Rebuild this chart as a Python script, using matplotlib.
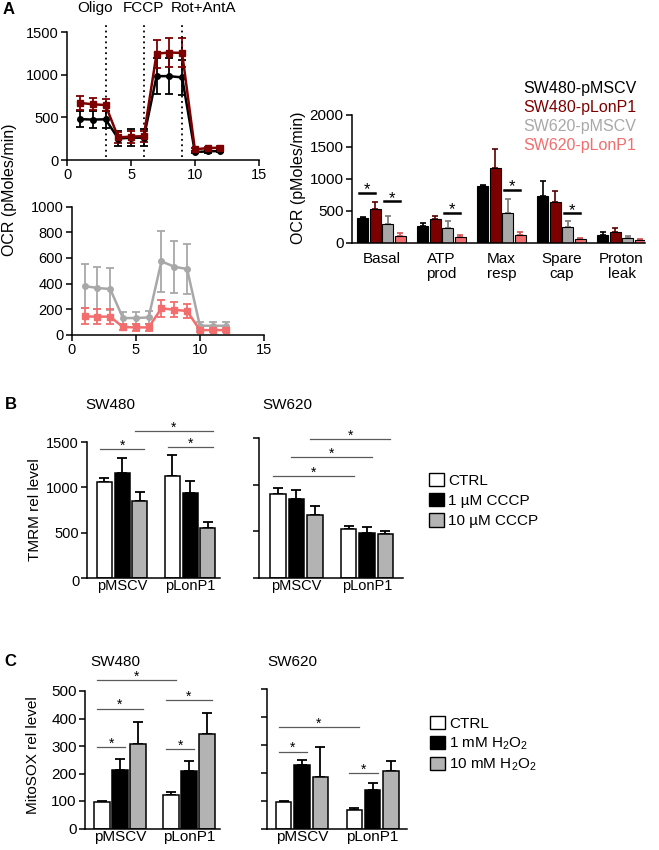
import matplotlib
matplotlib.use("Agg")
import matplotlib.pyplot as plt
import numpy as np
from matplotlib.patches import Patch

plt.rcParams["font.family"] = ["Liberation Sans", "DejaVu Sans"]
plt.rcParams["mathtext.fontset"] = "custom"
plt.rcParams["mathtext.rm"] = "Liberation Sans"

W, H = 659, 850

# ---- panel A: Seahorse traces ----
time = [1, 2, 3, 4, 5, 6, 7, 8, 9, 10, 11, 12]
injections = [3, 6, 9]
injection_labels = ["Oligo", "FCCP", "Rot+AntA"]

sw480_mscv = [480, 475, 478, 252, 262, 262, 985, 985, 970, 92, 102, 105]
sw480_mscv_err = [90, 100, 100, 92, 100, 100, 210, 212, 207, 15, 15, 15]
sw480_lon = [670, 655, 645, 265, 275, 280, 1250, 1262, 1258, 125, 140, 145]
sw480_lon_err = [80, 73, 70, 68, 70, 65, 165, 175, 170, 15, 15, 15]

sw620_mscv = [380, 365, 357, 130, 130, 135, 573, 531, 513, 70, 70, 70]
sw620_mscv_err = [172, 165, 166, 50, 50, 50, 239, 203, 198, 31, 31, 31]
sw620_lon = [143, 141, 141, 60, 57, 57, 206, 195, 185, 36, 36, 36]
sw620_lon_err = [63, 57, 57, 26, 26, 26, 65, 60, 55, 14, 14, 14]

# ---- panel A: OCR parameters ----
ocr_params = ["Basal", "ATP\nprod", "Max\nresp", "Spare\ncap", "Proton\nleak"]
ocr_lines = ["SW480-pMSCV", "SW480-pLonP1", "SW620-pMSCV", "SW620-pLonP1"]
ocr_vals = [
    [391, 260, 885, 729, 125],
    [526, 370, 1161, 641, 161],
    [286, 229, 458, 240, 78],
    [109, 89, 115, 57, 42],
]
ocr_errs = [
    [10, 52, 11, 240, 42],
    [114, 52, 297, 172, 63],
    [136, 110, 230, 93, 21],
    [37, 26, 57, 21, 10],
]
# (parameter, series a, series b, height)
ocr_sig = [(0, 0, 1, 781), (0, 2, 3, 647), (1, 2, 3, 469), (2, 2, 3, 823), (3, 2, 3, 458)]

# ---- panels B / C ----
vectors = ["pMSCV", "pLonP1"]
tmrm_labels = ["CTRL", "1 µM CCCP", "10 µM CCCP"]
tmrm_sw480 = [[1055, 1161, 849], [1125, 941, 548]]
tmrm_sw480_err = [[51, 166, 99], [235, 132, 66]]
tmrm_sw620 = [[900, 847, 672], [529, 486, 472]]
tmrm_sw620_err = [[61, 96, 100], [32, 64, 28]]
tmrm_sw480_sig = [(0, 2, 1420), (2, 5, 1620), (3, 5, 1445)]
tmrm_sw620_sig = [(0, 3, 1093), (1, 4, 1297), (2, 5, 1490)]

sox_labels = ["CTRL", r"1 mM H$_\mathregular{2}$O$_\mathregular{2}$",
              r"10 mM H$_\mathregular{2}$O$_\mathregular{2}$"]
sox_sw480 = [[98, 211, 307], [122, 208, 345]]
sox_sw480_err = [[1, 40, 81], [9, 37, 76]]
sox_sw620 = [[97, 230, 187], [67, 139, 206]]
sox_sw620_err = [[2, 18, 106], [8, 24, 38]]
sox_sw480_sig = [(0, 3, 539), (0, 2, 436), (0, 1, 295), (3, 5, 467), (3, 4, 288)]
sox_sw620_sig = [(0, 3, 364), (0, 1, 276), (3, 4, 199)]

c_black = "#000000"
c_red = "#7d0000"
c_gray = "#a8a8a8"
c_pink = "#f26d6d"
treat_colors = ["white", "black", "#b3b3b3"]

fig = plt.figure(figsize=(W / 100, H / 100), dpi=100)


def px_axes(left, top, right, bottom):
    return fig.add_axes([left / W, 1 - bottom / H, (right - left) / W, (bottom - top) / H])


def px_text(x, y, s, **kw):
    fig.text(x / W, 1 - y / H, s, **kw)


def style(ax, fs=10.5):
    for side in ["top", "right"]:
        ax.spines[side].set_visible(False)
    for side in ["left", "bottom"]:
        ax.spines[side].set_linewidth(1.1)
    ax.tick_params(direction="out", length=4, width=1.1, labelsize=fs, pad=2)


def star(ax, x, y, fs, off=2):
    ax.annotate("*", (x, y), xytext=(0, off), textcoords="offset points",
                fontsize=fs, ha="center", va="center", annotation_clip=False)


# A top trace
ax1 = px_axes(67.2, 32.3, 258.7, 160)
style(ax1)
ax1.errorbar(time, sw480_mscv, yerr=sw480_mscv_err, fmt="-o", color=c_black, ms=4,
             lw=1.8, elinewidth=1.3, capsize=3, capthick=1.3)
ax1.errorbar(time, sw480_lon, yerr=sw480_lon_err, fmt="-s", color=c_red, ms=4,
             lw=1.8, elinewidth=1.3, capsize=3, capthick=1.3)
ax1.vlines(injections, 35, 1625, colors="black", linestyles=(0, (1, 2)), lw=1.3, clip_on=False)
ax1.set_xlim(0, 15)
ax1.set_ylim(0, 1500)
ax1.set_xticks([0, 5, 10, 15])
ax1.set_yticks([0, 500, 1000, 1500])
for x, lab in zip([95, 143, 204], injection_labels):
    px_text(x, 8, lab, fontsize=11, ha="center", va="center")

# A lower trace
ax2 = px_axes(71.7, 206.7, 264, 334.7)
style(ax2)
ax2.errorbar(time, sw620_mscv, yerr=sw620_mscv_err, fmt="-o", color=c_gray, ms=4,
             lw=1.8, elinewidth=1.3, capsize=3, capthick=1.3)
ax2.errorbar(time, sw620_lon, yerr=sw620_lon_err, fmt="-s", color=c_pink, ms=4,
             lw=1.8, elinewidth=1.3, capsize=3, capthick=1.3)
ax2.set_xlim(0, 15)
ax2.set_ylim(0, 1000)
ax2.set_xticks([0, 5, 10, 15])
ax2.set_yticks([0, 200, 400, 600, 800, 1000])

px_text(9, 10, "A", fontsize=12, fontweight="bold", ha="center", va="center")
px_text(10, 190, "OCR (pMoles/min)", fontsize=11.5, rotation=90, ha="center", va="center")

# A bars
ax3 = px_axes(352, 114.5, 645, 242.7)
style(ax3, fs=11)
bar_cols = [c_black, c_red, c_gray, c_pink]
err_cols = ["#000000", "#5a0000", "#777777", "#d05050"]
grp = np.arange(len(ocr_params))
step, bw = 0.208, 0.185
for i in range(4):
    xs = grp + (i - 1.5) * step
    ax3.bar(xs, ocr_vals[i], bw, color=bar_cols[i], edgecolor="black", lw=0.8, zorder=2)
    ax3.errorbar(xs, ocr_vals[i], yerr=[np.zeros(5), ocr_errs[i]], fmt="none",
                 ecolor=err_cols[i], elinewidth=1.2, capsize=2.5, capthick=1.2, zorder=1)
for g, a, b, y in ocr_sig:
    xa = g + (a - 1.5) * step - 0.06
    xb = g + (b - 1.5) * step + 0.0
    ax3.plot([xa, xb], [y, y], color="black", lw=1.8, clip_on=False)
    star(ax3, (xa + xb) / 2, y, 12, off=2.2)
ax3.set_xlim(-0.49, 4.39)
ax3.set_ylim(0, 2000)
ax3.set_yticks([0, 500, 1000, 1500, 2000])
ax3.set_xticks(grp)
ax3.set_xticklabels(ocr_params, linespacing=1.05)
ax3.tick_params(axis="x", length=0, pad=7)
px_text(298, 178, "OCR (pMoles/min)", fontsize=11.5, rotation=90, ha="center", va="center")
for k, (lab, col) in enumerate(zip(ocr_lines, bar_cols)):
    px_text(523, 88 + k * 19.3, lab, fontsize=11.5, color=col, ha="left", va="center")


def grouped(ax, vals, errs, sig, ylim, step=0.26, bw=0.22, fs=10.5):
    style(ax, fs=fs)
    vals = np.array(vals)
    errs = np.array(errs)
    centers = []
    for g in range(2):
        for i in range(3):
            centers.append(g + (i - 1) * step)
    centers = np.array(centers)
    for i in range(3):
        xs = np.arange(2) + (i - 1) * step
        ax.bar(xs, vals[:, i], bw, color=treat_colors[i], edgecolor="black", lw=1.1, zorder=2)
        ax.errorbar(xs, vals[:, i], yerr=[np.zeros(2), errs[:, i]], fmt="none", ecolor="black",
                    elinewidth=1.3, capsize=3.6, capthick=1.3, zorder=1)
    for a, b, y in sig:
        xa, xb = centers[a] - 0.07, centers[b] + 0.07
        ax.plot([xa, xb], [y, y], color="#5a5a5a", lw=0.9, clip_on=False)
        star(ax, (xa + xb) / 2, y, 10, off=2.5)
    ax.set_ylim(*ylim)
    ax.set_xticks([0, 1])
    ax.set_xticklabels(vectors)
    ax.tick_params(axis="x", length=0, pad=1)


# B
axb1 = px_axes(87, 442, 220, 578)
grouped(axb1, tmrm_sw480, tmrm_sw480_err, tmrm_sw480_sig, (0, 1500))
axb1.set_xlim(-0.515, 1.44)
axb1.set_yticks([0, 500, 1000, 1500])
axb1.set_yticklabels(["", "500", "1000", "1500"])
px_text(76, 582, "0", fontsize=10.5, ha="center", va="center")

axb2 = px_axes(259, 438, 403, 578)
grouped(axb2, tmrm_sw620, tmrm_sw620_err, tmrm_sw620_sig, (0, 1500))
axb2.set_xlim(-0.53, 1.51)
axb2.set_yticks([0, 500, 1000, 1500])
axb2.set_yticklabels([])

px_text(11, 404, "B", fontsize=12, fontweight="bold", ha="center", va="center")
px_text(110, 405, "SW480", fontsize=11, ha="center", va="center")
px_text(287, 405, "SW620", fontsize=11, ha="center", va="center")
px_text(35, 510, "TMRM rel level", fontsize=11, rotation=90, ha="center", va="center")

handles = [Patch(facecolor=c, edgecolor="black", lw=1) for c in treat_colors]
fig.legend(handles, tmrm_labels, loc="upper left", bbox_to_anchor=(429 / W, 1 - 473 / H),
           frameon=False, fontsize=11, handlelength=0.95, handleheight=0.95,
           handletextpad=0.3, labelspacing=0.35, borderpad=0, borderaxespad=0)

# C
axc1 = px_axes(85, 691, 220, 828.5)
grouped(axc1, sox_sw480, sox_sw480_err, sox_sw480_sig, (0, 500), fs=11)
axc1.set_xlim(-0.507, 1.449)
axc1.set_yticks([0, 100, 200, 300, 400, 500])

axc2 = px_axes(267, 689, 407, 829)
grouped(axc2, sox_sw620, sox_sw620_err, sox_sw620_sig, (0, 500), fs=11)
axc2.set_xlim(-0.495, 1.485)
axc2.set_yticks([0, 100, 200, 300, 400, 500])
axc2.set_yticklabels([])

px_text(10, 662, "C", fontsize=12, fontweight="bold", ha="center", va="center")
px_text(115, 662, "SW480", fontsize=11, ha="center", va="center")
px_text(292, 662, "SW620", fontsize=11, ha="center", va="center")
px_text(33, 755, "MitoSOX rel level", fontsize=11, rotation=90, ha="center", va="center")

fig.legend(handles, sox_labels, loc="upper left", bbox_to_anchor=(430 / W, 1 - 716 / H),
           frameon=False, fontsize=11, handlelength=0.95, handleheight=0.95,
           handletextpad=0.3, labelspacing=0.3, borderpad=0, borderaxespad=0)

fig.savefig("out.png", dpi=100)
